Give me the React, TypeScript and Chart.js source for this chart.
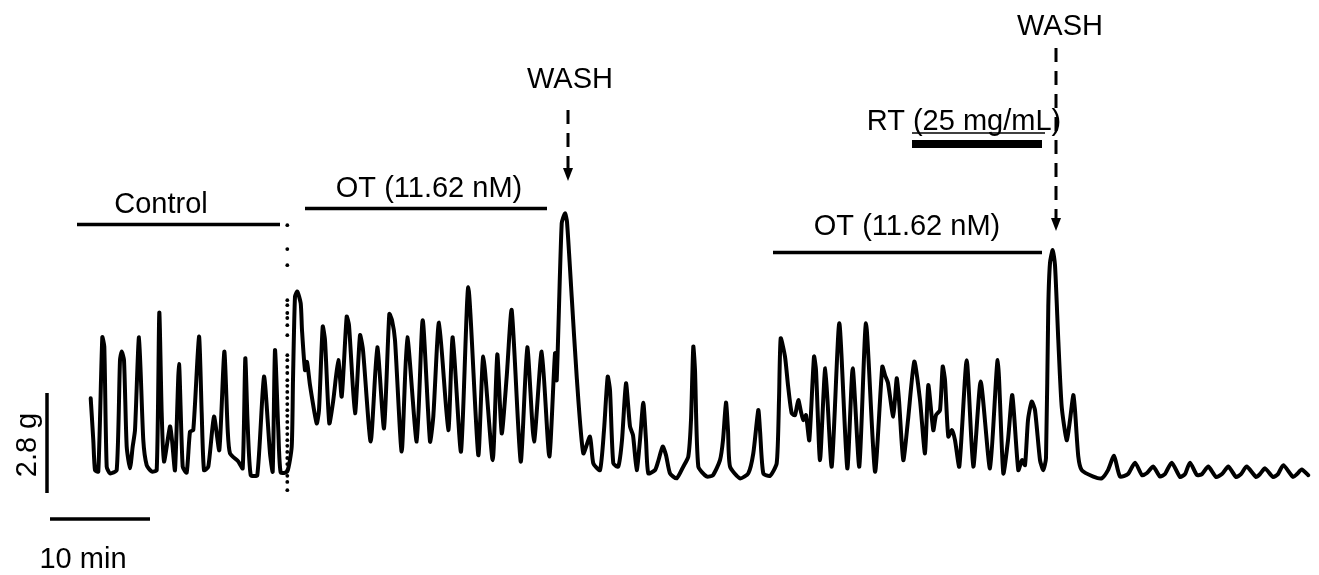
import React, { useEffect, useRef } from "react";
import { Chart, registerables } from "chart.js";

Chart.register(...registerables);

// Time (min) and tension (g)
const traceTime = [
  4.07, 4.33, 4.5, 4.83, 5.23, 5.43, 5.67, 6.0, 6.67, 7.0, 7.17, 7.4, 7.67, 8.0, 8.27, 8.5, 8.9, 9.33, 9.67, 10.17,
  10.67, 10.93, 11.17, 11.4, 12.0, 12.2, 12.5, 12.9, 13.27, 13.67, 14.0, 14.33, 14.9, 15.17, 15.4, 15.83, 16.4, 16.93, 17.43, 17.77,
  18.0, 18.83, 19.27, 19.53, 19.75, 20.07, 20.73, 21.4, 22.0, 22.27, 22.5, 22.83, 23.07, 23.73, 24.17, 24.3, 24.5, 24.73, 25.07, 25.2,
  25.5, 25.7, 26.0, 26.67, 26.9, 27.27, 27.5, 27.93, 28.33, 28.83, 29.17, 29.67, 29.9, 30.5, 31.0, 31.3, 32.07, 32.73, 33.4, 33.93,
  34.2, 34.5, 35.17, 35.73, 36.67, 37.27, 38.0, 38.33, 38.9, 39.83, 40.27, 41.1, 41.83, 42.83, 43.33, 44.27, 44.73, 45.17, 45.67, 46.17,
  47.07, 47.73, 48.4, 49.17, 49.93, 50.5, 50.67, 51.17, 51.5, 51.7, 52.17, 52.67, 53.33, 54.0, 54.33, 55.0, 55.4, 55.77, 56.0, 56.33,
  56.83, 57.2, 57.6, 58.0, 58.3, 58.67, 59.0, 59.33, 59.6, 59.83, 60.5, 60.8, 61.27, 61.6, 62.0, 62.67, 63.33, 63.83, 64.1, 64.33,
  64.5, 64.83, 65.67, 66.3, 67.0, 67.3, 67.6, 67.8, 68.0, 69.0, 69.83, 70.33, 70.83, 71.0, 71.33, 72.0, 72.67, 72.9, 73.07, 73.5,
  73.8, 74.17, 74.5, 74.83, 75.1, 75.33, 75.6, 75.93, 76.4, 76.6, 77.0, 77.53, 78.17, 78.93, 79.73, 80.27, 80.93, 81.6, 82.5, 83.23,
  83.5, 83.8, 84.33, 84.67, 84.9, 85.33, 85.8, 86.43, 87.0, 87.5, 87.83, 88.33, 88.6, 89.0, 89.27, 89.5, 89.83, 90.2, 90.5, 90.93,
  91.67, 92.33, 93.07, 94.0, 94.77, 95.33, 95.8, 96.23, 96.83, 97.2, 97.5, 97.8, 98.17, 98.5, 99.0, 99.33, 99.6, 99.83, 100.0, 100.27,
  100.5, 100.83, 101.17, 101.67, 102.0, 102.33, 102.5, 102.83, 103.17, 104.33, 105.17, 105.8, 106.4, 107.0, 107.8, 108.5, 109.2, 109.7, 110.33, 111.0,
  111.5, 112.17, 113.0, 113.5, 114.0, 114.7, 115.2, 115.83, 116.6, 117.2, 117.83, 118.6, 119.1, 119.67, 120.6, 121.0, 121.5, 122.3, 122.8, 123.33,
  124.3, 124.7, 125.17, 125.83,
];
const traceForce = [
  2.65, 1.48, 0.64, 0.6, 4.36, 4.1, 0.74, 0.55, 0.64, 3.72, 3.96, 3.72, 1.3, 0.69, 1.3, 1.76, 4.36, 1.48, 0.78, 0.6,
  0.64, 5.05, 2.23, 0.88, 1.86, 1.48, 0.64, 3.61, 0.74, 0.57, 1.72, 1.76, 4.38, 2.24, 0.64, 0.74, 2.14, 1.2, 3.96, 1.76,
  1.11, 0.88, 0.69, 3.77, 2.04, 0.5, 0.5, 3.26, 1.11, 0.6, 4.0, 1.76, 0.57, 0.6, 1.3, 3.16, 5.5, 5.64, 5.31, 4.56,
  3.44, 3.67, 3.02, 1.95, 2.32, 4.66, 4.28, 1.95, 2.6, 3.72, 2.7, 4.94, 4.7, 2.23, 4.42, 4.0, 1.44, 4.08, 1.81, 5.01,
  4.84, 4.28, 1.16, 4.36, 1.44, 4.84, 1.44, 2.14, 4.77, 1.76, 4.36, 1.16, 5.76, 1.06, 3.82, 0.92, 3.88, 1.67, 3.26, 5.12,
  0.88, 4.08, 1.44, 3.96, 1.02, 3.91, 3.16, 7.55, 7.83, 7.59, 5.5, 3.26, 1.11, 1.58, 0.83, 0.64, 1.76, 3.26, 2.88, 0.83,
  0.74, 1.48, 3.07, 1.86, 1.62, 0.64, 1.48, 2.53, 1.48, 0.55, 0.64, 0.87, 1.3, 1.06, 0.55, 0.41, 0.74, 1.02, 2.04, 4.1,
  3.44, 0.74, 0.46, 0.5, 0.92, 1.48, 2.53, 1.76, 0.74, 0.41, 0.55, 1.11, 2.32, 1.76, 0.55, 0.48, 0.83, 2.6, 4.33, 3.82,
  3.02, 2.23, 2.18, 2.6, 2.27, 2.04, 2.18, 1.48, 3.82, 3.44, 0.92, 3.49, 0.74, 4.75, 0.69, 3.49, 0.74, 4.75, 0.6, 3.54,
  3.3, 3.08, 2.14, 3.21, 2.6, 0.92, 2.04, 3.68, 2.6, 1.11, 3.02, 1.76, 2.18, 2.32, 3.54, 3.16, 1.58, 1.76, 1.48, 0.74,
  3.72, 0.74, 3.12, 0.69, 3.72, 0.55, 1.48, 2.74, 0.64, 0.92, 0.78, 2.04, 2.56, 2.32, 0.92, 0.64, 0.98, 5.22, 6.44, 6.8,
  6.38, 4.28, 2.42, 1.48, 2.04, 2.74, 2.32, 1.02, 0.64, 0.46, 0.41, 0.64, 1.04, 0.46, 0.53, 0.85, 0.5, 0.56, 0.74, 0.46,
  0.53, 0.85, 0.45, 0.53, 0.85, 0.5, 0.53, 0.74, 0.45, 0.53, 0.74, 0.45, 0.53, 0.74, 0.45, 0.53, 0.69, 0.45, 0.53, 0.78,
  0.45, 0.53, 0.66, 0.5,
];

// Dotted pen jump at the end of the control period
const jumpTime = 23.73;
const jumpForce = [
  7.5, 6.83, 6.38, 5.4, 5.26, 5.04, 4.9, 4.7, 4.42, 3.86, 3.72, 3.53, 3.36, 3.16, 3.0, 2.83, 2.66, 2.49, 2.32, 2.16,
  1.99, 1.82, 1.65, 1.48, 1.32, 1.15, 0.98, 0.81, 0.64, 0.48, 0.31, 0.08,
];

// Protocol periods (min)
const controlSpan = [2.7, 23.0];
const ot1Span = [25.5, 49.7];
const ot2Span = [72.3, 99.2];
const rtSpan = [86.2, 99.2];
const washTimes = [51.8, 100.6];

const controlLabel = "Control";
const otLabel = "OT (11.62 nM)";
const rtLabel = "RT (25 mg/mL)";
const washLabel = "WASH";
const timeBarMin = 10;
const timeBarLabel = "10 min";
const forceBarG = 2.8;
const forceBarLabel = "2.8 g";

const FONT = "29px 'Liberation Sans', Arial, sans-serif";

const annotationPlugin = {
  id: "traceAnnotations",
  afterDraw(chart: any) {
    const ctx = chart.ctx;
    const xs = chart.scales.x;
    const ys = chart.scales.y;
    const X = (v: number) => xs.getPixelForValue(v);
    ctx.save();
    ctx.fillStyle = "#000";
    ctx.strokeStyle = "#000";
    ctx.lineCap = "butt";

    const hline = (x1: number, x2: number, y: number, w: number) => {
      ctx.beginPath();
      ctx.lineWidth = w;
      ctx.setLineDash([]);
      ctx.moveTo(x1, y);
      ctx.lineTo(x2, y);
      ctx.stroke();
    };
    const text = (s: string, x: number, y: number) => {
      ctx.font = FONT;
      ctx.textAlign = "center";
      ctx.textBaseline = "alphabetic";
      ctx.fillText(s, x, y);
    };
    const arrow = (x: number, y1: number, y2: number) => {
      ctx.beginPath();
      ctx.lineWidth = 3;
      ctx.setLineDash([14, 9]);
      ctx.moveTo(x, y1);
      ctx.lineTo(x, y2 - 12);
      ctx.stroke();
      ctx.setLineDash([]);
      ctx.beginPath();
      ctx.moveTo(x - 5, y2 - 13);
      ctx.lineTo(x + 5, y2 - 13);
      ctx.lineTo(x, y2);
      ctx.closePath();
      ctx.fill();
    };

    // Control
    text(controlLabel, 161, 213);
    hline(X(controlSpan[0]), X(controlSpan[1]), 224.5, 3.5);
    // OT 1
    text(otLabel, 429, 197);
    hline(X(ot1Span[0]), X(ot1Span[1]), 208.5, 3.5);
    // WASH 1
    text(washLabel, X(washTimes[0]) + 2, 88);
    arrow(X(washTimes[0]), 110, 181);
    // RT
    text(rtLabel, 964, 130);
    hline(912, 1045, 133, 1.3);
    hline(X(rtSpan[0]), X(rtSpan[1]), 144, 8);
    // OT 2
    text(otLabel, 907, 235);
    hline(X(ot2Span[0]), X(ot2Span[1]), 252.5, 3.5);
    // WASH 2
    text(washLabel, X(washTimes[1]) + 4, 35);
    arrow(X(washTimes[1]), 48, 231);

    // Scale bars
    ctx.beginPath();
    ctx.lineWidth = 3.5;
    ctx.moveTo(47, ys.getPixelForValue(0));
    ctx.lineTo(47, ys.getPixelForValue(forceBarG));
    ctx.stroke();
    hline(X(0), X(timeBarMin), 519, 3.5);
    text(timeBarLabel, 83, 568);
    ctx.save();
    ctx.translate(36, 445);
    ctx.rotate(-Math.PI / 2);
    ctx.font = FONT;
    ctx.textAlign = "center";
    ctx.fillText(forceBarLabel, 0, 0);
    ctx.restore();

    ctx.restore();
  },
};

export default function App() {
  const canvasRef = useRef<HTMLCanvasElement | null>(null);

  useEffect(() => {
    const prevMargin = document.body.style.margin;
    document.body.style.margin = "0";
    const canvas = canvasRef.current;
    if (!canvas) return;
    const trace = traceTime.map((t, i) => ({ x: t, y: traceForce[i] }));
    const jump = jumpForce.map((f) => ({ x: jumpTime, y: f }));
    const chart = new Chart(canvas, {
      type: "line",
      data: {
        datasets: [
          {
            data: trace,
            borderColor: "#000",
            borderWidth: 4,
            pointRadius: 0,
            tension: 0.2,
            borderJoinStyle: "round",
            borderCapStyle: "round",
            fill: false,
          },
          {
            data: jump,
            showLine: false,
            pointRadius: 1.9,
            pointBackgroundColor: "#000",
            pointBorderWidth: 0,
            borderColor: "#000",
          },
        ],
      },
      options: {
        responsive: false,
        animation: false,
        devicePixelRatio: 1,
        layout: { padding: 0, autoPadding: false },
        plugins: { legend: { display: false }, tooltip: { enabled: false } },
        events: [],
        scales: {
          x: { type: "linear", min: -5, max: 126.9, display: false },
          y: { type: "linear", min: -2.296, max: 13.804, display: false },
        },
      },
      plugins: [annotationPlugin],
    });
    return () => {
      chart.destroy();
      document.body.style.margin = prevMargin;
    };
  }, []);

  return (
    <div style={{ position: "absolute", left: 0, top: 0, width: 1319, height: 575, background: "#fff" }}>
      <canvas ref={canvasRef} width={1319} height={575} style={{ display: "block" }} />
    </div>
  );
}
